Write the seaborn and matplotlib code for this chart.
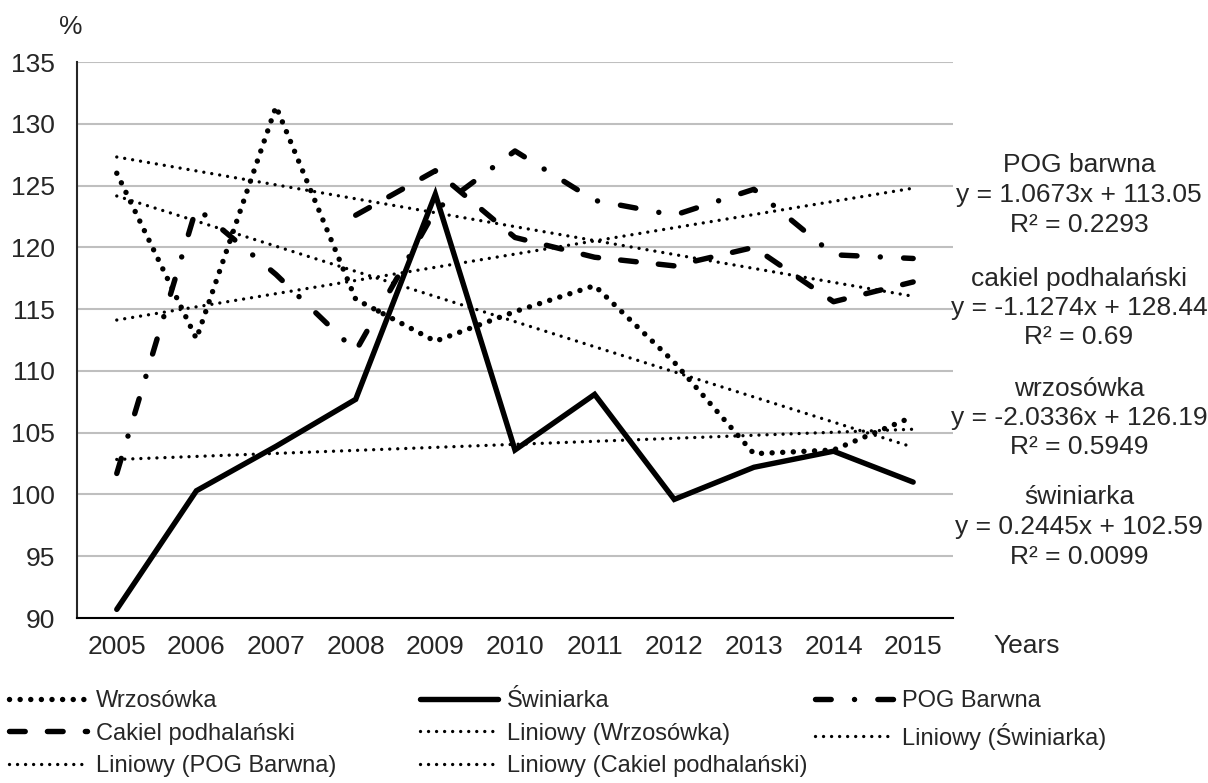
import matplotlib
matplotlib.use('Agg')
import numpy as np
import matplotlib.pyplot as plt
import seaborn as sns

# dane (%)
years = [2005, 2006, 2007, 2008, 2009, 2010, 2011, 2012, 2013, 2014, 2015]
wrzosowka = [126.0, 112.6, 131.4, 115.8, 112.4, 114.8, 116.9, 110.7, 103.3, 103.6, 106.3]
swiniarka = [90.7, 100.3, 103.9, 107.7, 124.3, 103.6, 108.1, 99.6, 102.2, 103.5, 101.0]
pog_barwna = [101.7, 123.2, 117.8, 111.6, 123.0, 127.8, 123.8, 122.6, 124.7, 119.4, 119.1]
cakiel = [None, None, None, 122.6, 126.2, 120.8, 119.2, 118.5, 120.0, 115.6, 117.2]

series_names = ['Wrzosówka', 'Świniarka', 'POG Barwna', 'Cakiel podhalański']
trend_names = ['Liniowy (Wrzosówka)', 'Liniowy (Świniarka)',
               'Liniowy (POG Barwna)', 'Liniowy (Cakiel podhalański)']
eq_titles = ['wrzosówka', 'świniarka', 'POG barwna', 'cakiel podhalański']
trend_slope = [-2.0336, 0.2445, 1.0673, -1.1274]
trend_intercept = [126.19, 102.59, 113.05, 128.44]
trend_r2 = ['0.5949', '0.0099', '0.2293', '0.69']

y_ticks = [90, 95, 100, 105, 110, 115, 120, 125, 130, 135]

sns.set_style('white')
plt.rcParams['font.family'] = ['Liberation Sans', 'DejaVu Sans']

fig = plt.figure(figsize=(12.08, 7.83), dpi=100)
ax = fig.add_axes([0.0637, 0.2107, 0.7252, 0.7101])

# style linii
main_lw = 3.9
styles = [
    dict(linestyle=(0, (0.01, 1.95)), dash_capstyle='round'),
    dict(linestyle='-', solid_capstyle='round', solid_joinstyle='miter'),
    dict(linestyle=(0, (2.9, 4.3, 0.01, 4.3)), dash_capstyle='round'),
    dict(linestyle=(0, (2.9, 4.1)), dash_capstyle='round'),
]
all_values = [wrzosowka, swiniarka, pog_barwna, cakiel]

handles = {}
for name, vals, st in zip(series_names, all_values, styles):
    xs = [y for y, v in zip(years, vals) if v is not None]
    ys = [v for v in vals if v is not None]
    sns.lineplot(x=xs, y=ys, ax=ax, color='black', linewidth=main_lw,
                 legend=False, label=name, **st)
    handles[name] = ax.lines[-1]

# linie trendu (liniowe, x = 1..11)
xi = np.arange(1, len(years) + 1)
for name, a, b in zip(trend_names, trend_slope, trend_intercept):
    sns.lineplot(x=years, y=a * xi + b, ax=ax, color='black', linewidth=2.4,
                 linestyle=(0, (0.01, 2.4)), dash_capstyle='round',
                 legend=False, label=name)
    handles[name] = ax.lines[-1]

ax.set_xlim(2004.5, 2015.5)
ax.set_ylim(90, 135)
ax.set_xticks(years)
ax.set_xticklabels([str(y) for y in years])
ax.set_yticks(y_ticks)
ax.set_xlabel('')
ax.set_ylabel('')
ax.tick_params(axis='x', length=0, pad=12, labelsize=19)
ax.tick_params(axis='y', length=0, pad=16, labelsize=19)
ax.yaxis.grid(True, color='#bfbfbf', linewidth=1.5)
ax.xaxis.grid(False)
ax.set_axisbelow(True)
for s in ['top', 'right']:
    ax.spines[s].set_visible(False)
ax.spines['left'].set_color('#262626')
ax.spines['left'].set_linewidth(1.5)
ax.spines['bottom'].set_color('black')
ax.spines['bottom'].set_linewidth(1.5)

fig.text(71 / 1208, 1 - 27 / 783, '%', fontsize=19, ha='center', va='center')
fig.text(1027 / 1208, 1 - 646 / 783, 'Years', fontsize=19, ha='center', va='center')

# równania trendów po prawej
eq_mid = [418, 527, 195, 308]
for t, a, b, r2, ym in zip(eq_titles, trend_slope, trend_intercept, trend_r2, eq_mid):
    lines = [t, f'y = {a}x + {b}', f'R² = {r2}']
    for k, txt in enumerate(lines):
        fig.text(1079 / 1208, 1 - (ym + (k - 1) * 29.5) / 783, txt,
                 fontsize=19, ha='center', va='center')

# legenda w trzech kolumnach
columns = [
    ['Wrzosówka', 'Cakiel podhalański', 'Liniowy (POG Barwna)'],
    ['Świniarka', 'Liniowy (Wrzosówka)', 'Liniowy (Cakiel podhalański)'],
    ['POG Barwna', 'Liniowy (Świniarka)'],
]
col_x = [9, 420, 815]
for cx, col in zip(col_x, columns):
    fig.legend([handles[n] for n in col], col, loc='upper left',
               bbox_to_anchor=(cx / 1208, 1 - 690 / 783), frameon=False,
               fontsize=17, handlelength=3.3, handletextpad=0.4,
               borderpad=0, borderaxespad=0, labelspacing=0.45)

fig.savefig('out.png', dpi=100)
